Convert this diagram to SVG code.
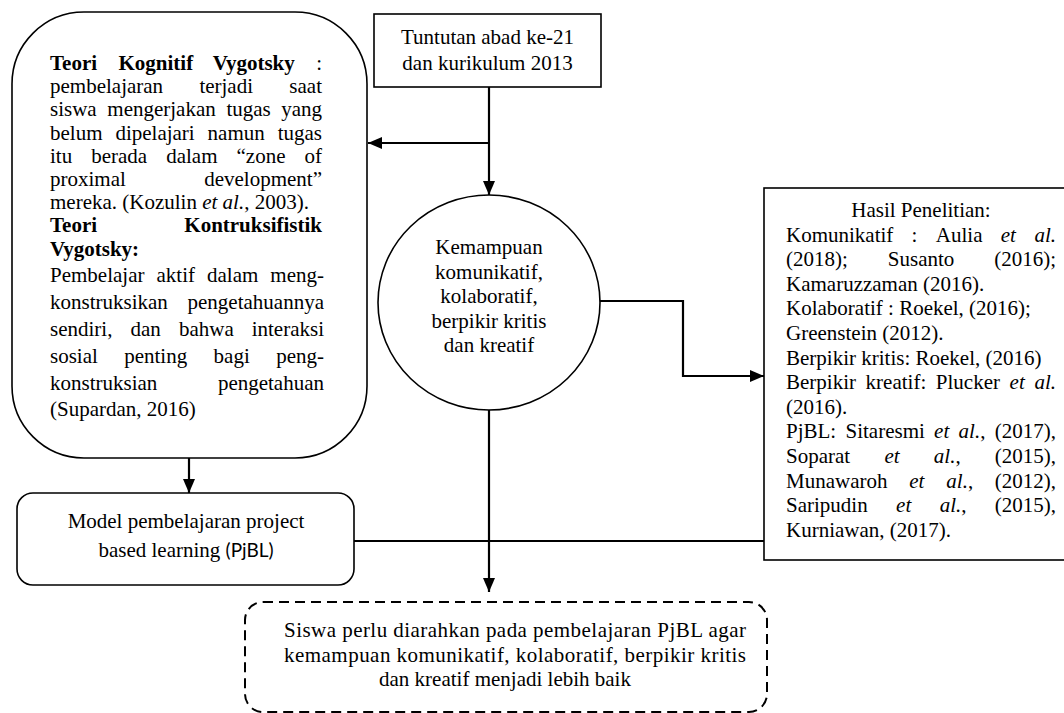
<svg xmlns="http://www.w3.org/2000/svg" width="1064" height="713" viewBox="0 0 1064 713">
<style>
text{font-family:"Liberation Serif","Times New Roman",serif;font-size:21px;fill:#000}
.b{font-weight:bold}
.i{font-style:italic}
.c{text-anchor:middle}
.e{text-anchor:end}
.box{fill:#fff;stroke:#000;stroke-width:1.6}
.con{fill:none;stroke:#000;stroke-width:2.2}
.sans{font-family:Lato,"Noto Sans",sans-serif;font-size:19px}
</style>
<defs>
<marker id="arr" viewBox="0 0 14 12" refX="14" refY="6" markerWidth="14" markerHeight="12" markerUnits="userSpaceOnUse" orient="auto">
<path d="M0,0 L14,6 L0,12 Z" fill="#000"/>
</marker>
</defs>
<rect width="1064" height="713" fill="#fff"/>

<g id="connectors">
<path class="con" d="M489,87 V195" marker-end="url(#arr)"/>
<path class="con" d="M489,143 H368" marker-end="url(#arr)"/>
<path class="con" d="M600,301 H683 V376 H764" marker-end="url(#arr)"/>
<path class="con" d="M189,458 V493" marker-end="url(#arr)"/>
<path class="con" d="M489,410 V592" marker-end="url(#arr)"/>
<path class="con" d="M354,541 H764"/>
</g>

<g id="top-box">
<rect class="box" x="374" y="14" width="227" height="73"/>
<text class="c" x="487.5" y="44">Tuntutan abad ke-21</text>
<text class="c" x="487.5" y="70">dan kurikulum 2013</text>
</g>

<g id="teori-box">
<rect class="box" x="12" y="12" width="355" height="446" rx="72" ry="72"/>
<text class="b" x="50" y="70">Teori</text>
<text class="b" x="118.5" y="70">Kognitif</text>
<text class="b" x="212.7" y="70">Vygotsky</text>
<text class="e" x="322" y="70">:</text>

<text x="50" y="93.2">pembelajaran</text>
<text x="199.4" y="93.2">terjadi</text>
<text class="e" x="322" y="93.2">saat</text>

<text x="50" y="116.4">siswa</text>
<text x="107.3" y="116.4">mengerjakan</text>
<text x="226.4" y="116.4">tugas</text>
<text class="e" x="322" y="116.4">yang</text>

<text x="50" y="139.6">belum</text>
<text x="115.4" y="139.6">dipelajari</text>
<text x="207.6" y="139.6">namun</text>
<text class="e" x="322" y="139.6">tugas</text>

<text x="50" y="162.8">itu</text>
<text x="91.2" y="162.8">berada</text>
<text x="166.2" y="162.8">dalam</text>
<text x="236.5" y="162.8">“zone</text>
<text class="e" x="322" y="162.8">of</text>

<text x="50" y="186">proximal</text>
<text class="e" x="322" y="186">development”</text>

<text x="50" y="209.2">mereka. (Kozulin <tspan class="i">et al.</tspan>, 2003).</text>

<text class="b" x="50" y="232.4">Teori</text>
<text class="b e" x="322" y="232.4">Kontruksifistik</text>

<text class="b" x="50" y="255.6">Vygotsky:</text>

<text x="50" y="282.4">Pembelajar</text>
<text x="156.5" y="282.4">aktif</text>
<text x="207" y="282.4">dalam</text>
<text class="e" x="324" y="282.4">meng-</text>

<text x="50" y="309.2">konstruksikan</text>
<text class="e" x="324" y="309.2">pengetahuannya</text>

<text x="50" y="336">sendiri,</text>
<text x="130.5" y="336">dan</text>
<text x="178.9" y="336">bahwa</text>
<text class="e" x="324" y="336">interaksi</text>

<text x="50" y="362.8">sosial</text>
<text x="124.2" y="362.8">penting</text>
<text x="213.6" y="362.8">bagi</text>
<text class="e" x="324" y="362.8">peng-</text>

<text x="50" y="389.6">konstruksian</text>
<text class="e" x="324" y="389.6">pengetahuan</text>

<text x="50" y="416.4">(Supardan, 2016)</text>
</g>

<g id="kemampuan-circle">
<ellipse class="box" cx="489" cy="302.5" rx="111" ry="107.5"/>
<text class="c" x="489" y="254">Kemampuan</text>
<text class="c" x="489" y="278.5">komunikatif,</text>
<text class="c" x="489" y="303">kolaboratif,</text>
<text class="c" x="489" y="327.5">berpikir kritis</text>
<text class="c" x="489" y="352">dan kreatif</text>
</g>

<g id="hasil-box">
<rect class="box" x="764" y="188" width="304" height="372"/>
<text class="c" x="921" y="217">Hasil Penelitian:</text>

<text x="786" y="241.6">Komunikatif</text>
<text x="911.6" y="241.6">:</text>
<text x="935.8" y="241.6">Aulia</text>
<text class="i" x="1000.8" y="241.6">et</text>
<text class="i e" x="1056" y="241.6">al.</text>

<text x="786" y="266.2">(2018);</text>
<text x="887.8" y="266.2">Susanto</text>
<text class="e" x="1056" y="266.2">(2016);</text>

<text x="786" y="290.8">Kamaruzzaman (2016).</text>
<text x="786" y="315.4">Kolaboratif : Roekel, (2016);</text>
<text x="786" y="340">Greenstein (2012).</text>
<text x="786" y="364.6">Berpikir kritis: Roekel, (2016)</text>

<text x="786" y="389.2">Berpikir</text>
<text x="865.6" y="389.2">kreatif:</text>
<text x="935.8" y="389.2">Plucker</text>
<text class="i" x="1009.6" y="389.2">et</text>
<text class="i e" x="1056" y="389.2">al.</text>

<text x="786" y="413.8">(2016).</text>

<text x="786" y="438.4">PjBL:</text>
<text x="845.5" y="438.4">Sitaresmi</text>
<text class="i" x="934.1" y="438.4">et</text>
<text x="958.6" y="438.4"><tspan class="i">al.</tspan>,</text>
<text class="e" x="1056" y="438.4">(2017),</text>

<text x="786" y="463">Soparat</text>
<text class="i" x="884.4" y="463">et</text>
<text x="933.8" y="463"><tspan class="i">al.</tspan>,</text>
<text class="e" x="1056" y="463">(2015),</text>

<text x="786" y="487.6">Munawaroh</text>
<text class="i" x="909.3" y="487.6">et</text>
<text x="946.3" y="487.6"><tspan class="i">al.</tspan>,</text>
<text class="e" x="1056" y="487.6">(2012),</text>

<text x="786" y="512.2">Saripudin</text>
<text class="i" x="896.1" y="512.2">et</text>
<text x="939.7" y="512.2"><tspan class="i">al.</tspan>,</text>
<text class="e" x="1056" y="512.2">(2015),</text>

<text x="786" y="536.8">Kurniawan, (2017).</text>
</g>

<g id="model-box">
<rect class="box" x="17" y="493" width="337" height="92" rx="16" ry="16"/>
<text class="c" x="186" y="528">Model pembelajaran project</text>
<text class="c" x="186" y="557">based learning <tspan class="sans">(PjBL)</tspan></text>
</g>

<g id="kesimpulan-box">
<rect x="245" y="602" width="522" height="110" rx="18" ry="18" fill="#fff" stroke="#000" stroke-width="2" stroke-dasharray="10,6"/>
<text x="284" y="637" textLength="462" lengthAdjust="spacing">Siswa perlu diarahkan pada pembelajaran PjBL agar</text>
<text x="284" y="662" textLength="462" lengthAdjust="spacing">kemampuan komunikatif, kolaboratif, berpikir kritis</text>
<text class="c" x="505" y="686">dan kreatif menjadi lebih baik</text>
</g>
</svg>
